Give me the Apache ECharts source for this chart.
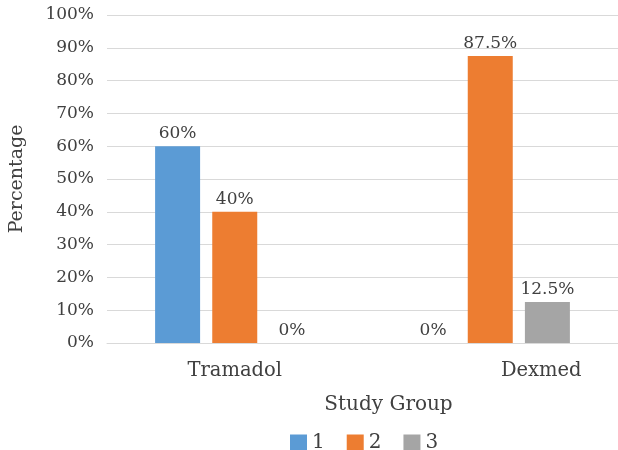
<!DOCTYPE html>
<html><head><meta charset="utf-8">
<script src="https://cdn.jsdelivr.net/npm/echarts@6/dist/echarts.min.js"></script>
<style>html,body{margin:0;padding:0;background:#fff}#c{width:618px;height:450px}</style>
</head><body><div id="c"></div>
<script>
const categories = ['Tramadol', 'Dexmed'];
const seriesNames = ['1', '2', '3'];
const values1 = [60, 0];
const values2 = [40, 87.5];
const values3 = [0, 12.5];
const yTicks = [0, 10, 20, 30, 40, 50, 60, 70, 80, 90, 100];

const FONT = 'DejaVu Serif';
const TXT = '#404040';
const colors = ['#5B9BD5', '#ED7D31', '#A5A5A5'];
const chart = echarts.init(document.getElementById('c'));
const lbl = {show: true, position: 'top', distance: 4, formatter: p => p.value + '%', fontFamily: FONT, fontSize: 17, color: TXT};
const mk = (name, data, i) => ({name, type: 'bar', data, barWidth: 45, barGap: '27%', itemStyle: {color: colors[i]}, label: lbl});
chart.setOption({
  animation: false,
  textStyle: {fontFamily: FONT},
  grid: {left: 106, right: 0, top: 15, bottom: 107},
  legend: {data: seriesNames, left: 285, top: 428, itemWidth: 17, itemHeight: 17, itemGap: 22,
    icon: 'rect', textStyle: {fontFamily: FONT, fontSize: 20, color: TXT}},
  xAxis: {type: 'category', data: categories,
    axisLine: {lineStyle: {color: '#d9d9d9', width: 1}}, axisTick: {show: false},
    axisLabel: {fontFamily: FONT, fontSize: 19.5, color: TXT, margin: 18,
      formatter: v => v === 'Dexmed' ? '{b|' + v + '}' : '{a|' + v + '}',
      rich: {a: {fontFamily: FONT, fontSize: 19.5, color: TXT}, b: {fontFamily: FONT, fontSize: 19.5, color: TXT, padding: [0, 0, 0, 102]}}},
    name: 'Study Group', nameLocation: 'middle', nameGap: 52,
    nameTextStyle: {fontFamily: FONT, fontSize: 20, color: TXT, padding: [0, 0, 0, 52]}},
  yAxis: {type: 'value', min: 0, max: 100, interval: 10,
    axisLabel: {formatter: v => yTicks.includes(v) ? v + '%' : '', fontFamily: FONT, fontSize: 17, color: TXT, margin: 13},
    axisLine: {show: false}, axisTick: {show: false},
    splitLine: {lineStyle: {color: '#d9d9d9', width: 1}},
    name: 'Percentage', nameLocation: 'middle', nameGap: 80,
    nameTextStyle: {fontFamily: FONT, fontSize: 19, color: TXT}},
  series: [mk(seriesNames[0], values1, 0), mk(seriesNames[1], values2, 1), mk(seriesNames[2], values3, 2)]
});
</script></body></html>
